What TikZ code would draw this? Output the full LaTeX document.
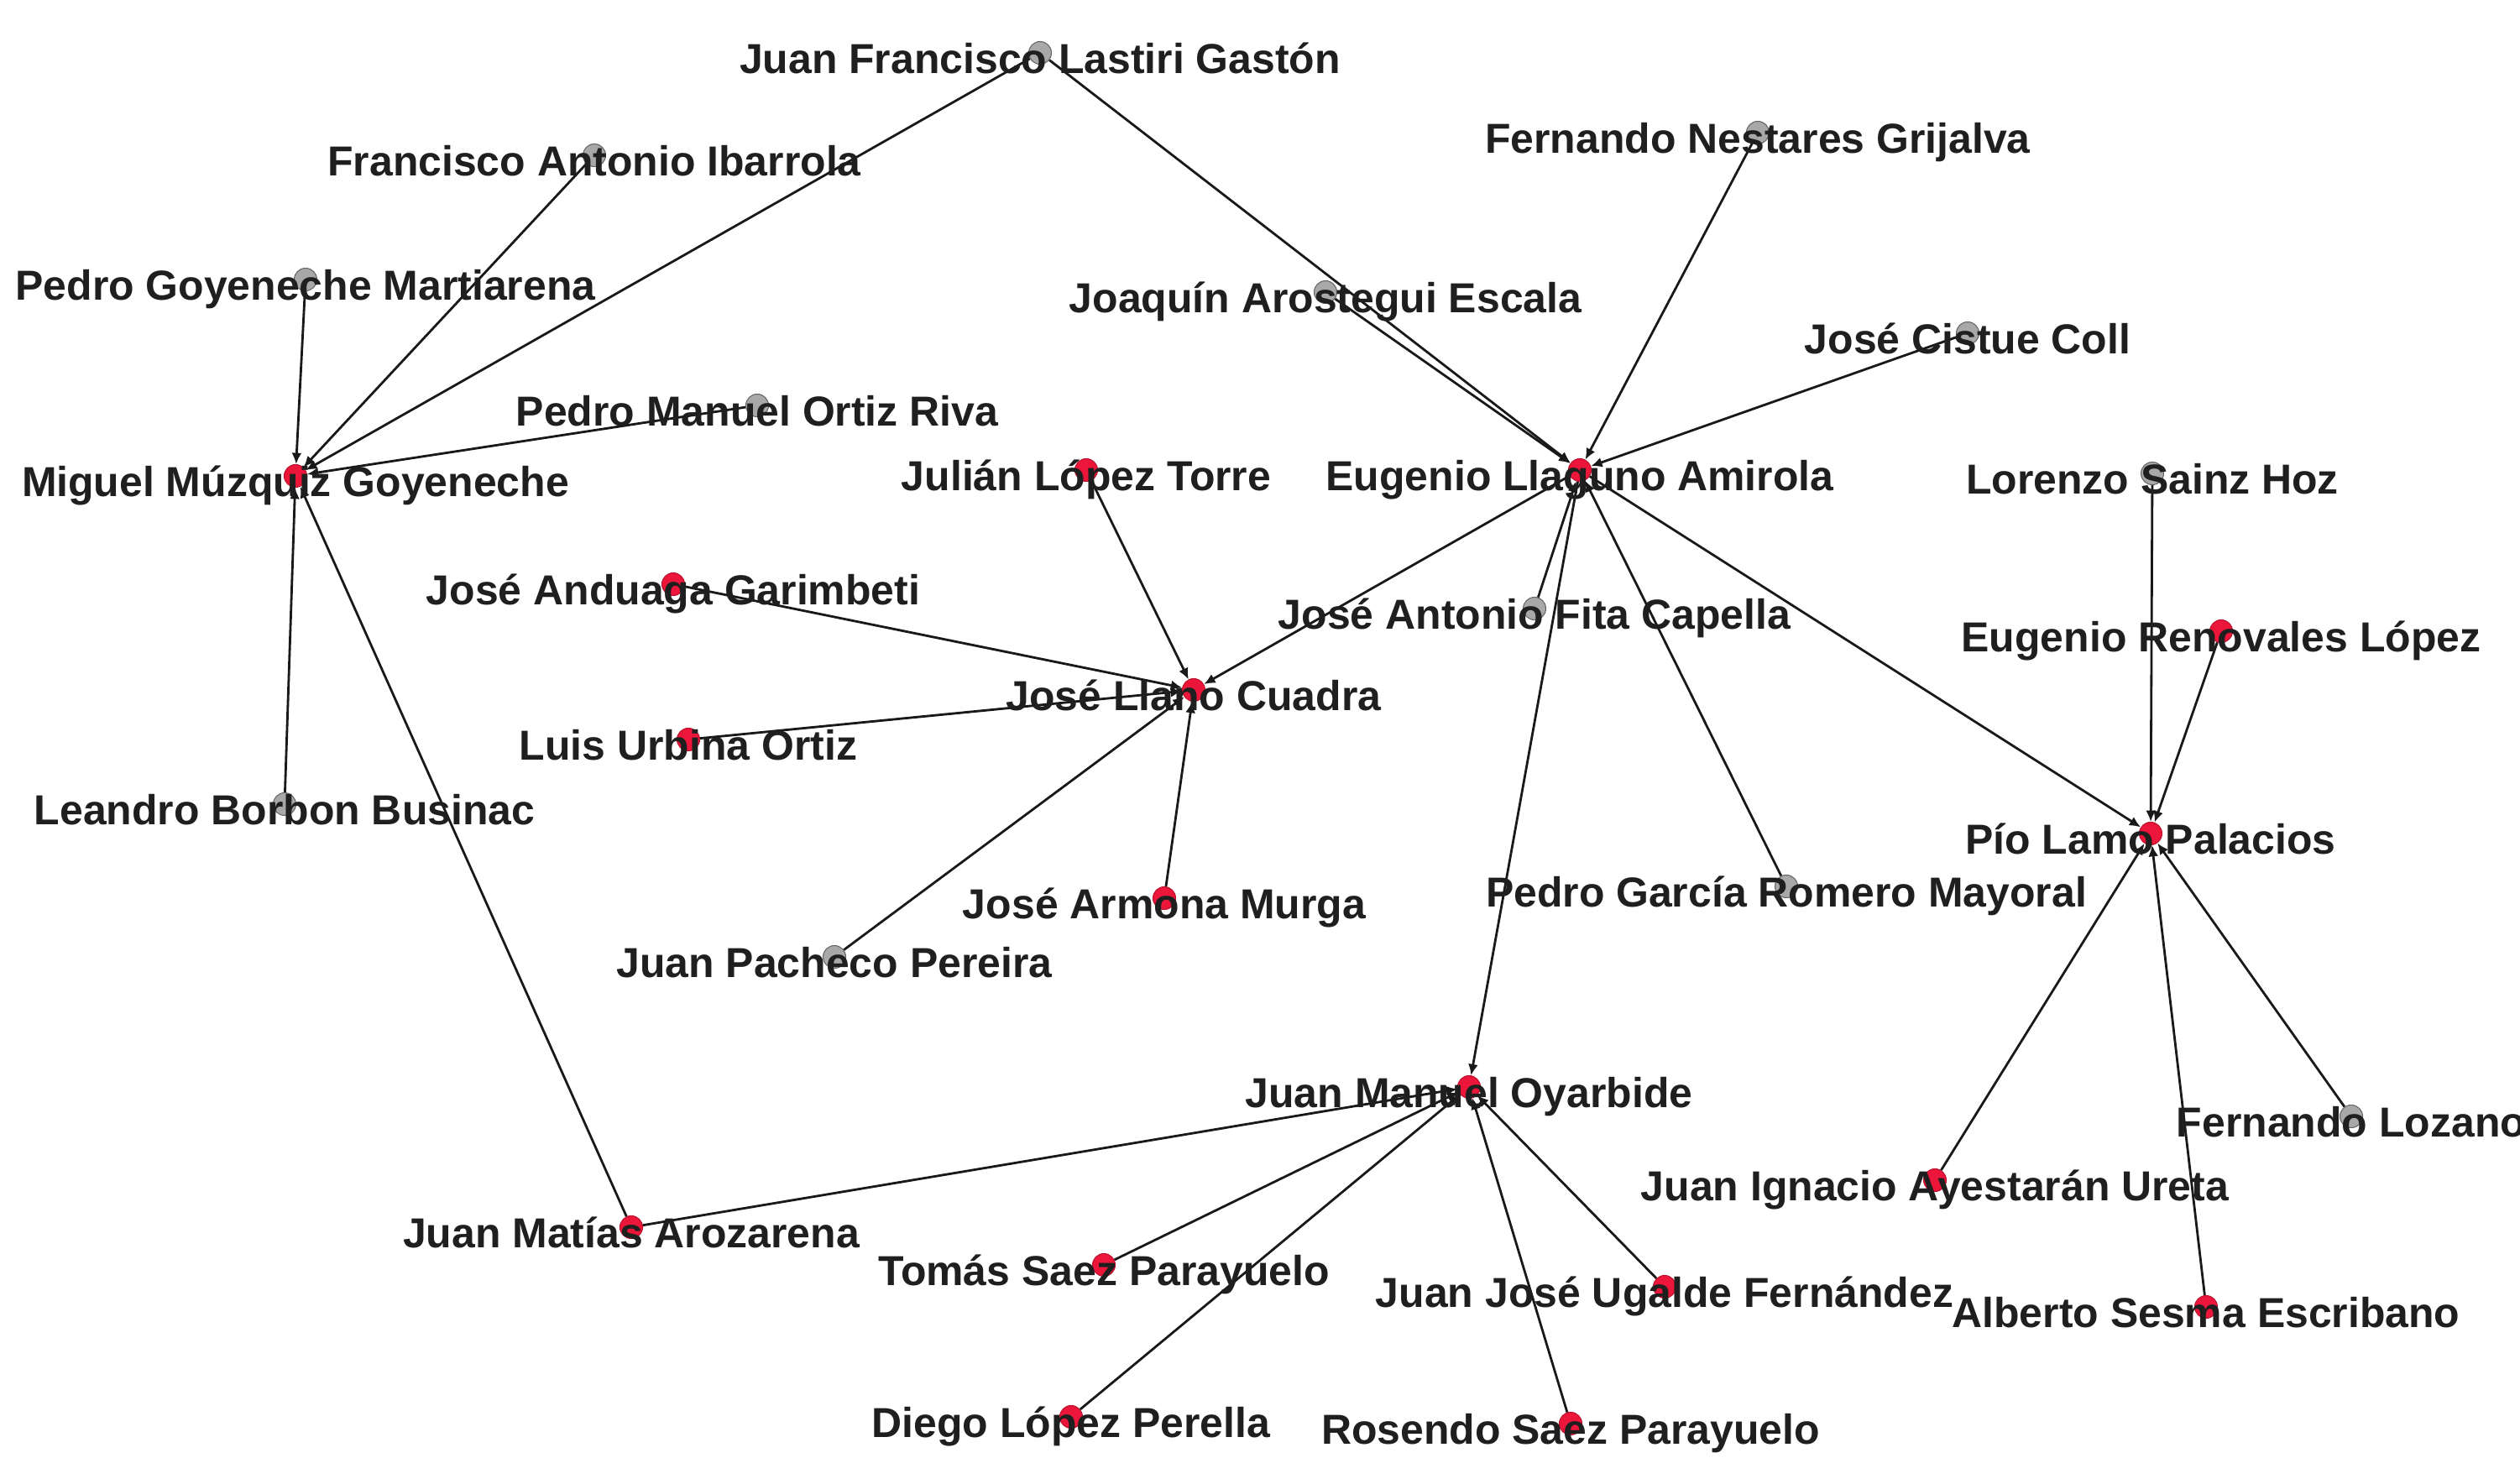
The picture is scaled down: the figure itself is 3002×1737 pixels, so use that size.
\documentclass[tikz,border=0pt]{standalone}
\usepackage{fontspec}
\setmainfont{Liberation Sans}
\usetikzlibrary{arrows.meta}
\definecolor{dotred}{RGB}{236,22,58}
\definecolor{dotgray}{RGB}{168,168,168}
\begin{document}
\begin{tikzpicture}[x=0.01cm,y=-0.01cm,
  reddot/.style={circle,inner sep=0pt,minimum size=0.27cm,fill=dotred,draw=dotred!80!black,line width=0.3pt},
  graydot/.style={circle,inner sep=0pt,minimum size=0.27cm,fill=dotgray,draw=dotgray!60!black,line width=0.3pt},
  who/.style={anchor=base,yshift=-0.24cm,inner sep=0pt,text=black!88,font=\fontsize{14.2pt}{17pt}\selectfont\bfseries},
  conn/.style={-{Latex[length=3.8pt,width=3.4pt]},line width=0.8pt,black!90}]
              \useasboundingbox (0,0) rectangle (3002,1737);
              \clip (0,0) rectangle (3002,1737);
              \node[graydot] (jfl) at (1239,63) {};
              \node[graydot] (fai) at (708,185) {};
              \node[graydot] (pgm) at (364,333) {};
              \node[graydot] (pmo) at (902,483) {};
              \node[graydot] (lbb) at (339,958) {};
              \node[graydot] (jae) at (1579,348) {};
              \node[graydot] (fng) at (2094,158) {};
              \node[graydot] (jcc) at (2344,397) {};
              \node[graydot] (jaf) at (1828,725) {};
              \node[graydot] (lsh) at (2564,564) {};
              \node[graydot] (pgr) at (2128,1056) {};
              \node[graydot] (jpp) at (994,1140) {};
              \node[graydot] (flz) at (2801,1330) {};
              \node[reddot] (mmg) at (352,567) {};
              \node[reddot] (jlt) at (1294,560) {};
              \node[reddot] (ela) at (1882,560) {};
              \node[reddot] (jag) at (802,696) {};
              \node[reddot] (jlc) at (1422,822) {};
              \node[reddot] (luo) at (820,881) {};
              \node[reddot] (jam) at (1387,1070) {};
              \node[reddot] (erl) at (2646,752) {};
              \node[reddot] (plp) at (2562,993) {};
              \node[reddot] (jmo) at (1750,1295) {};
              \node[reddot] (jma) at (752,1462) {};
              \node[reddot] (tsp) at (1315,1507) {};
              \node[reddot] (jia) at (2305,1406) {};
              \node[reddot] (jju) at (1983,1533) {};
              \node[reddot] (ase) at (2628,1557) {};
              \node[reddot] (dlp) at (1276,1688) {};
              \node[reddot] (rsp) at (1871,1696) {};
              \draw[conn] (pgm) -- (mmg);
              \draw[conn] (fai) -- (mmg);
              \draw[conn] (jfl) -- (mmg);
              \draw[conn] (pmo) -- (mmg);
              \draw[conn] (lbb) -- (mmg);
              \draw[conn] (jma) -- (mmg);
              \draw[conn] (jfl) -- (ela);
              \draw[conn] (jae) -- (ela);
              \draw[conn] (fng) -- (ela);
              \draw[conn] (jcc) -- (ela);
              \draw[conn] (jaf) -- (ela);
              \draw[conn] (pgr) -- (ela);
              \draw[conn] (ela) -- (jlc);
              \draw[conn] (ela) -- (jmo);
              \draw[conn] (ela) -- (plp);
              \draw[conn] (jlt) -- (jlc);
              \draw[conn] (jag) -- (jlc);
              \draw[conn] (luo) -- (jlc);
              \draw[conn] (jpp) -- (jlc);
              \draw[conn] (jam) -- (jlc);
              \draw[conn] (lsh) -- (plp);
              \draw[conn] (erl) -- (plp);
              \draw[conn] (jia) -- (plp);
              \draw[conn] (ase) -- (plp);
              \draw[conn] (flz) -- (plp);
              \draw[conn] (jma) -- (jmo);
              \draw[conn] (tsp) -- (jmo);
              \draw[conn] (dlp) -- (jmo);
              \draw[conn] (jju) -- (jmo);
              \draw[conn] (rsp) -- (jmo);
              \node[who] (jfl-t) at (jfl) {Juan Francisco Lastiri Gastón};
              \node[who] (fai-t) at (fai) {Francisco Antonio Ibarrola};
              \node[who] (pgm-t) at (pgm) {Pedro Goyeneche Martiarena};
              \node[who] (pmo-t) at (pmo) {Pedro Manuel Ortiz Riva};
              \node[who] (lbb-t) at (lbb) {Leandro Borbon Businac};
              \node[who] (jae-t) at (jae) {Joaquín Arostegui Escala};
              \node[who] (fng-t) at (fng) {Fernando Nestares Grijalva};
              \node[who] (jcc-t) at (jcc) {José Cistue Coll};
              \node[who] (jaf-t) at (jaf) {José Antonio Fita Capella};
              \node[who] (lsh-t) at (lsh) {Lorenzo Sainz Hoz};
              \node[who] (pgr-t) at (pgr) {Pedro García Romero Mayoral};
              \node[who] (jpp-t) at (jpp) {Juan Pacheco Pereira};
              \node[who] (flz-t) at (flz) {Fernando Lozano};
              \node[who] (mmg-t) at (mmg) {Miguel Múzquiz Goyeneche};
              \node[who] (jlt-t) at (jlt) {Julián López Torre};
              \node[who] (ela-t) at (ela) {Eugenio Llaguno Amirola};
              \node[who] (jag-t) at (jag) {José Anduaga Garimbeti};
              \node[who] (jlc-t) at (jlc) {José Llano Cuadra};
              \node[who] (luo-t) at (luo) {Luis Urbina Ortiz};
              \node[who] (jam-t) at (jam) {José Armona Murga};
              \node[who] (erl-t) at (erl) {Eugenio Renovales López};
              \node[who] (plp-t) at (plp) {Pío Lamo Palacios};
              \node[who] (jmo-t) at (jmo) {Juan Manuel Oyarbide};
              \node[who] (jma-t) at (jma) {Juan Matías Arozarena};
              \node[who] (tsp-t) at (tsp) {Tomás Saez Parayuelo};
              \node[who] (jia-t) at (jia) {Juan Ignacio Ayestarán Ureta};
              \node[who] (jju-t) at (jju) {Juan José Ugalde Fernández};
              \node[who] (ase-t) at (ase) {Alberto Sesma Escribano};
              \node[who] (dlp-t) at (dlp) {Diego López Perella};
              \node[who] (rsp-t) at (rsp) {Rosendo Saez Parayuelo};
            \end{tikzpicture}
\end{document}
